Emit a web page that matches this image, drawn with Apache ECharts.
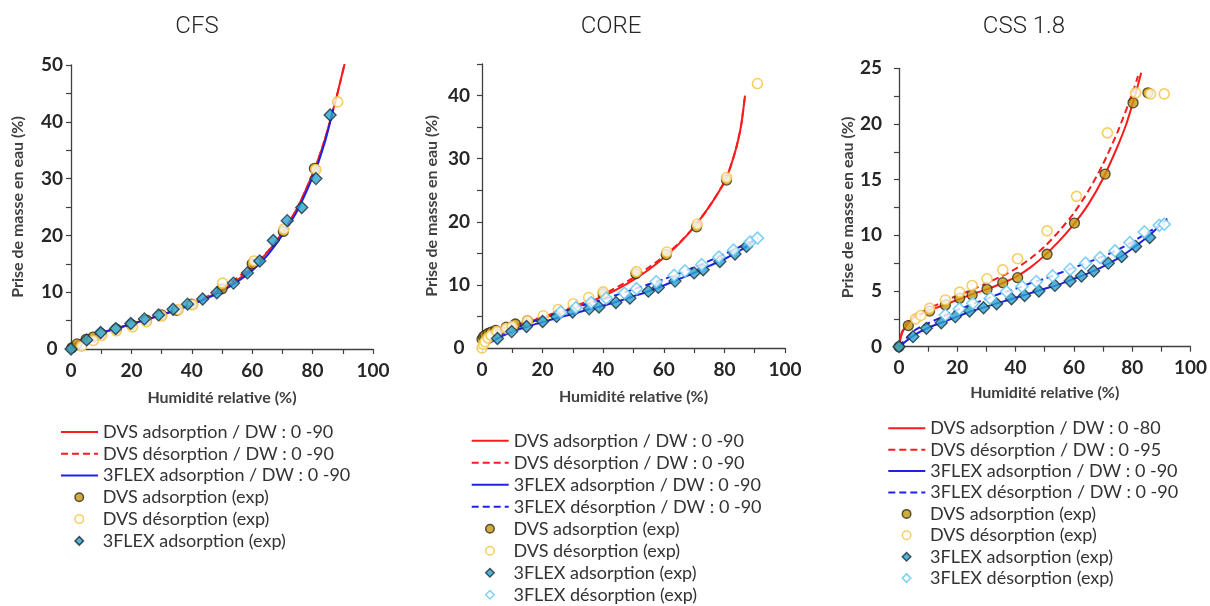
<!DOCTYPE html>
<html>
<head>
<meta charset="utf-8">
<script src="https://cdn.jsdelivr.net/npm/echarts@6/dist/echarts.min.js"></script>
<style>
html,body{margin:0;padding:0;background:#fff;}
#chart{width:1210px;height:606px;}
</style>
</head>
<body>
<div id="chart"></div>
<script>
// ---------- Titles & labels ----------
const panelTitles = ['CFS', 'CORE', 'CSS 1.8'];
const xAxisName = 'Humidité relative (%)';
const yAxisName = 'Prise de masse en eau (%)';

// ---------- CFS ----------
const cfsDvsAdsFit = [[0,0],[1,0.8],[2.5,1.4],[5,1.9],[10,2.8],[15,3.6],[20,4.4],[25,5.2],[30,6.0],[35,6.9],[40,7.9],[45,9.0],[50,10.4],[55,12.1],[60,14.3],[65,17.0],[70,20.5],[75,24.9],[80,30.8],[82,33.6],[84,36.8],[86,40.5],[88,44.5],[90.6,50.2]];
const cfsDvsDesFit = [[0,0],[1,0.8],[2.5,1.4],[5,1.9],[10,2.8],[15,3.6],[20,4.4],[25,5.2],[30,6.0],[35,6.9],[40,7.95],[45,9.2],[50,10.7],[55,12.5],[60,14.6],[65,17.1],[70,20.5],[75,24.9],[80,30.8],[82,33.6],[84,36.8],[86,40.5],[88,44.5],[90.6,50.2]];
const cfsFlexAdsFit = [[0,0],[1,0.6],[2.5,1.1],[5,1.7],[10,2.8],[15,3.6],[20,4.4],[25,5.2],[30,6.0],[35,6.9],[40,7.8],[45,8.9],[50,10.2],[55,11.8],[60,13.8],[65,16.5],[70,20.1],[75,24.4],[80,30.2],[82,33.0],[84,36.3],[85.5,39.3],[86.8,42.3]];
const cfsDvsAdsExp = [[0.3,0.2],[2,0.9],[5,1.7],[7.3,2.1],[10,2.7],[15,3.5],[20,4.3],[25,5.1],[30,6.0],[35,6.8],[40,7.9],[50,10.6],[60,15.0],[70.3,20.7],[80.6,31.8]];
const cfsDvsDesExp = [[3.5,0.5],[7.4,1.5],[10.2,2.4],[15,3.2],[20.4,3.9],[25,4.8],[30,5.8],[35.5,6.9],[40.3,7.8],[50.2,11.6],[60.6,15.5],[70.5,21.1],[81.1,31.6],[88.3,43.5]];
const cfsFlexAdsExp = [[0,0],[5.2,1.6],[9.8,2.9],[14.8,3.6],[19.8,4.5],[24.3,5.3],[29,6.0],[33.8,7.0],[38.6,7.9],[43.6,8.8],[48.3,9.9],[53.8,11.6],[58.4,13.4],[62.5,15.5],[67,19.1],[71.6,22.6],[76.4,24.9],[81.1,30.0],[85.8,41.2]];

// ---------- CORE ----------
const coreDvsAdsFit = [[0,0],[0.5,1.2],[1,1.7],[2.5,2.4],[5,2.9],[10,3.5],[15,4.1],[20,4.8],[25,5.5],[30,6.3],[35,7.2],[40,8.2],[45,9.4],[50,10.8],[55,12.4],[60,14.3],[65,16.5],[70,19.2],[75,22.4],[80,26.3],[82,28.7],[84,31.9],[85.5,35.2],[86.8,40.0]];
const coreDvsDesFit = [[0,0],[0.5,1.2],[1,1.7],[2.5,2.4],[5,2.9],[10,3.5],[15,4.2],[20,4.95],[25,5.7],[30,6.5],[35,7.45],[40,8.5],[45,9.75],[50,11.15],[55,12.75],[60,14.5],[65,16.6],[70,19.2],[75,22.4],[80,26.3],[82,28.7],[84,31.9],[85.5,35.2],[86.8,40.0]];
const coreFlexAdsFit = [[0,0],[2.5,0.8],[5,1.5],[10,2.6],[15,3.4],[20,4.1],[25,4.8],[30,5.4],[35,6.1],[40,6.7],[45,7.4],[50,8.2],[55,9.0],[60,9.9],[65,10.9],[70,11.9],[75,13.0],[80,14.1],[85,15.4],[88,16.3],[90,17.0]];
const coreFlexDesFit = [[0,0],[2.5,1.1],[5,1.8],[10,2.9],[15,3.9],[20,4.7],[25,5.5],[30,6.3],[35,7.0],[40,7.7],[45,8.5],[50,9.3],[55,10.1],[60,10.9],[65,11.8],[70,12.8],[75,13.8],[80,14.9],[85,16.0],[88,16.7],[91,17.4]];
const coreDvsAdsExp = [[0,1.4],[0.5,1.8],[1,2.0],[2,2.3],[3,2.5],[4.5,2.8],[8,3.3],[11,3.8],[15,4.3],[40,8.6],[50.8,11.8],[60.8,14.8],[70.8,19.2],[80.7,26.6]];
const coreDvsDesExp = [[0,0],[0.5,0.6],[1,1.0],[2,1.6],[3,2.0],[5,2.6],[8,3.1],[10,3.4],[15,4.3],[20.2,5.1],[25.2,6.1],[30.1,7.0],[35.2,8.0],[40,8.9],[51,12.1],[61,15.2],[71,19.6],[80.7,27.0],[90.9,41.9]];
const coreFlexAdsExp = [[5.1,1.5],[9.8,2.6],[14.7,3.4],[20,4.2],[24.6,5.0],[29.9,5.7],[35.4,6.2],[38.6,6.5],[44.2,7.2],[48.8,7.9],[54.9,9.0],[58.2,9.6],[63.7,10.6],[70,11.9],[73,12.4],[78.5,13.7],[83.5,14.9],[87.3,16.1]];
const coreFlexDesExp = [[26,5.7],[31,6.4],[36,7.2],[41,7.9],[47,8.7],[51,9.4],[57.5,10.5],[63.4,11.5],[67,12.2],[72.5,13.2],[78.2,14.4],[83,15.5],[88.5,16.8],[90.9,17.4]];

// ---------- CSS 1.8 ----------
const cssDvsAdsFit = [[0,0],[1,1.2],[2.5,1.9],[5,2.6],[10,3.2],[15,3.7],[20,4.2],[25,4.7],[30,5.15],[35,5.65],[40,6.25],[45,7.1],[50,8.2],[55,9.5],[60,11.0],[65,12.8],[70,15.1],[75,18.0],[78,20.0],[80,21.7],[82,23.5],[83.1,24.6]];
const cssDvsDesFit = [[0,0],[1,1.3],[2.5,2.0],[5,2.7],[10,3.4],[15,4.0],[20,4.6],[25,5.1],[30,5.7],[35,6.3],[40,7.0],[45,7.9],[50,9.0],[55,10.4],[60,12.0],[65,14.0],[70,16.4],[75,19.3],[80,22.7],[82,24.3]];
const cssFlexAdsFit = [[0,0],[5,1.0],[10,1.7],[15,2.2],[20,2.7],[25,3.2],[30,3.6],[35,4.0],[40,4.4],[45,4.8],[50,5.2],[55,5.6],[60,6.1],[65,6.6],[70,7.2],[75,7.9],[80,8.8],[85,9.8],[90,11.0],[92,11.5]];
const cssFlexDesFit = [[0,0],[5,1.4],[10,2.1],[15,2.7],[20,3.3],[25,3.8],[30,4.3],[35,4.8],[40,5.2],[45,5.7],[50,6.1],[55,6.6],[60,7.1],[65,7.6],[70,8.1],[75,8.7],[80,9.4],[85,10.2],[90,11.0],[92,11.4]];
const cssDvsAdsExp = [[0,0],[3.2,1.9],[10.5,3.2],[15.9,3.75],[20.8,4.35],[25.1,4.65],[30.2,5.15],[35.6,5.75],[40.7,6.2],[50.8,8.3],[60.2,11.1],[70.7,15.5],[80.3,21.9],[85.4,22.8]];
const cssDvsDesExp = [[5.7,2.5],[7.5,2.8],[10.5,3.45],[15.9,4.2],[20.8,4.9],[25.1,5.5],[30.2,6.1],[35.6,6.9],[40.7,7.9],[50.8,10.4],[60.9,13.5],[71.5,19.2],[81.2,22.8],[86.3,22.7],[91,22.7]];
const cssFlexAdsExp = [[0,0],[4.8,0.9],[9.4,1.65],[14.5,2.15],[19.3,2.7],[24.2,3.2],[29,3.5],[33.5,3.85],[38.6,4.3],[43.1,4.6],[48,5.0],[53.5,5.5],[58.7,5.9],[62.6,6.35],[66.8,6.8],[71.8,7.5],[76.4,8.1],[81.2,9.0],[86,9.8]];
const cssFlexDesExp = [[15.9,2.85],[20.7,3.4],[25.3,3.9],[31.3,4.35],[36.9,4.95],[42.2,5.4],[47.1,5.85],[52.7,6.35],[58.7,6.95],[64,7.5],[69,8.0],[74.1,8.6],[79.2,9.35],[84.2,10.3],[89.3,10.9],[91,11.0]];

// ---------- Series names ----------
const nDvsAds90 = 'DVS adsorption / DW : 0 -90';
const nDvsDes90 = 'DVS désorption / DW : 0 -90';
const nFlexAds90 = '3FLEX adsorption / DW : 0 -90';
const nFlexDes90 = '3FLEX désorption / DW : 0 -90';
const nDvsAds80 = 'DVS adsorption / DW : 0 -80';
const nDvsDes95 = 'DVS désorption / DW : 0 -95';
const nDvsAdsExp = 'DVS adsorption (exp)';
const nDvsDesExp = 'DVS désorption (exp)';
const nFlexAdsExp = '3FLEX adsorption (exp)';
const nFlexDesExp = '3FLEX désorption (exp)';

const RED = '#fa1c1c';
const BLUE = '#1f22e6';
const FONT = 'Lato, "Open Sans", sans-serif';

function lineS(name, data, color, dashed, idx) {
  return {
    type: 'line', name: name, data: data, xAxisIndex: idx, yAxisIndex: idx,
    symbol: 'none', showSymbol: false, smooth: 0.25,
    lineStyle: { color: color, width: 2, type: dashed ? [7, 4] : 'solid' },
    itemStyle: { color: color }, z: 2, silent: true
  };
}
const markerStyles = {
  dvsAds: { symbol: 'circle', size: 10, itemStyle: { color: '#c4960e', borderColor: '#2e2a18', borderWidth: 1.3 } },
  dvsDes: { symbol: 'circle', size: 10, itemStyle: { color: '#ffffff', borderColor: '#f5c23c', borderWidth: 1.6 } },
  flexAds: { symbol: 'diamond', size: 12, itemStyle: { color: '#2aa2cf', borderColor: '#1c2c38', borderWidth: 1.3 } },
  flexDes: { symbol: 'diamond', size: 12, itemStyle: { color: '#ffffff', borderColor: '#5ec6f2', borderWidth: 1.6 } }
};
function scatS(name, data, kind, idx) {
  const m = markerStyles[kind];
  return {
    type: 'scatter', name: name, data: data, xAxisIndex: idx, yAxisIndex: idx,
    symbol: m.symbol, symbolSize: m.size, symbolKeepAspect: true,
    itemStyle: m.itemStyle, z: 3, silent: true
  };
}

const grids = [
  { left: 71, top: 65, width: 302, height: 284 },
  { left: 482, top: 64, width: 303, height: 284 },
  { left: 899, top: 68.3, width: 296, height: 278.4 }
];
const yMax = [50, 45, 25];
const yInterval = [5, 5, 2.5];
const yLabelStep = [10, 10, 5];
const yLabelAlign = ['center', 'center', 'right'];
const yLabelMargin = [19, 23, 17];
const yNameGap = [45, 42, 43];
const xNameGap = [41, 40.5, 38.5];
const titleCenters = [[197, 27], [611, 27], [1024, 27]];

const axisColor = '#404040';
const xAxes = grids.map((g, i) => ({
  type: 'value', gridIndex: i, min: 0, max: 100, interval: 10,
  name: xAxisName, nameLocation: 'middle', nameGap: xNameGap[i],
  nameTextStyle: { fontFamily: FONT, fontWeight: 'bold', fontSize: 16, color: '#404040' },
  axisLine: { show: true, lineStyle: { color: axisColor, width: 1.3 } },
  axisTick: { show: true, inside: false, length: 5, lineStyle: { color: axisColor, width: 1.2 } },
  axisLabel: { margin: 12, fontFamily: FONT, fontWeight: 'bold', fontSize: 19, color: '#262626',
    formatter: v => (v % 20 === 0 ? String(v) : '') },
  splitLine: { show: false }
}));
const yAxes = grids.map((g, i) => ({
  type: 'value', gridIndex: i, min: 0, max: yMax[i], interval: yInterval[i],
  name: yAxisName, nameLocation: 'middle', nameGap: yNameGap[i],
  nameTextStyle: { fontFamily: FONT, fontWeight: 'bold', fontSize: 16, color: '#404040' },
  axisLine: { show: true, lineStyle: { color: axisColor, width: 1.3 } },
  axisTick: { show: true, inside: false, length: 5, lineStyle: { color: axisColor, width: 1.2 } },
  axisLabel: { margin: yLabelMargin[i], align: yLabelAlign[i], fontFamily: FONT, fontWeight: 'bold', fontSize: 19, color: '#262626',
    formatter: v => (Math.abs(v % yLabelStep[i]) < 1e-9 ? String(v) : '') },
  splitLine: { show: false }
}));

const series = [
  // CFS
  lineS(nDvsAds90, cfsDvsAdsFit, RED, false, 0),
  lineS(nDvsDes90, cfsDvsDesFit, RED, true, 0),
  lineS(nFlexAds90, cfsFlexAdsFit, BLUE, false, 0),
  scatS(nDvsAdsExp, cfsDvsAdsExp, 'dvsAds', 0),
  scatS(nDvsDesExp, cfsDvsDesExp, 'dvsDes', 0),
  scatS(nFlexAdsExp, cfsFlexAdsExp, 'flexAds', 0),
  // CORE
  lineS(nDvsAds90, coreDvsAdsFit, RED, false, 1),
  lineS(nDvsDes90, coreDvsDesFit, RED, true, 1),
  lineS(nFlexAds90, coreFlexAdsFit, BLUE, false, 1),
  lineS(nFlexDes90, coreFlexDesFit, BLUE, true, 1),
  scatS(nDvsAdsExp, coreDvsAdsExp, 'dvsAds', 1),
  scatS(nDvsDesExp, coreDvsDesExp, 'dvsDes', 1),
  scatS(nFlexAdsExp, coreFlexAdsExp, 'flexAds', 1),
  scatS(nFlexDesExp, coreFlexDesExp, 'flexDes', 1),
  // CSS 1.8
  lineS(nDvsAds80, cssDvsAdsFit, RED, false, 2),
  lineS(nDvsDes95, cssDvsDesFit, RED, true, 2),
  lineS(nFlexAds90, cssFlexAdsFit, BLUE, false, 2),
  lineS(nFlexDes90, cssFlexDesFit, BLUE, true, 2),
  scatS(nDvsAdsExp, cssDvsAdsExp, 'dvsAds', 2),
  scatS(nDvsDesExp, cssDvsDesExp, 'dvsDes', 2),
  scatS(nFlexAdsExp, cssFlexAdsExp, 'flexAds', 2),
  scatS(nFlexDesExp, cssFlexDesExp, 'flexDes', 2)
];

// Legends: line entries and marker entries per panel
const legendLineItems = [
  [nDvsAds90, nDvsDes90, nFlexAds90],
  [nDvsAds90, nDvsDes90, nFlexAds90, nFlexDes90],
  [nDvsAds80, nDvsDes95, nFlexAds90, nFlexDes90]
];
const legendMarkerItems = [
  [nDvsAdsExp, nDvsDesExp, nFlexAdsExp],
  [nDvsAdsExp, nDvsDesExp, nFlexAdsExp, nFlexDesExp],
  [nDvsAdsExp, nDvsDesExp, nFlexAdsExp, nFlexDesExp]
];
const legendPos = [[60, 421], [470.7, 429.7], [887.3, 417.6]];
const legendRow = [21.8, 22, 21.4];
const LINE_ICON_W = 37, MARK_ICON = 8.5;
const legends = [];
legendLineItems.forEach((items, i) => {
  const rowH = legendRow[i];
  const textStyle = { fontFamily: FONT, fontSize: 18, color: '#333333', lineHeight: rowH };
  legends.push({
    orient: 'vertical', left: legendPos[i][0], top: legendPos[i][1], padding: 0,
    itemWidth: LINE_ICON_W, itemHeight: 9, itemGap: 0, selectedMode: false,
    data: items.map(n => ({ name: n, itemStyle: { opacity: 0 } })),
    textStyle: textStyle
  });
  const extra = (LINE_ICON_W - MARK_ICON);
  legends.push({
    orient: 'vertical', left: legendPos[i][0] + extra / 2, top: legendPos[i][1] + items.length * rowH, padding: 0,
    itemWidth: MARK_ICON, itemHeight: MARK_ICON, itemGap: 0, selectedMode: false,
    data: legendMarkerItems[i],
    itemStyle: { borderWidth: 1.5 },
    textStyle: Object.assign({}, textStyle, { padding: [0, 0, 0, extra / 2] })
  });
});

const chart = echarts.init(document.getElementById('chart'));
chart.setOption({
  animation: false,
  backgroundColor: '#ffffff',
  grid: grids,
  xAxis: xAxes,
  yAxis: yAxes,
  legend: legends,
  graphic: panelTitles.map((t, i) => ({
    type: 'text', x: titleCenters[i][0], y: titleCenters[i][1],
    style: { text: t, align: 'center', verticalAlign: 'middle',
      font: '300 24px Roboto, "Open Sans", sans-serif', fill: '#262626' }
  })),
  series: series
});
</script>
</body>
</html>
